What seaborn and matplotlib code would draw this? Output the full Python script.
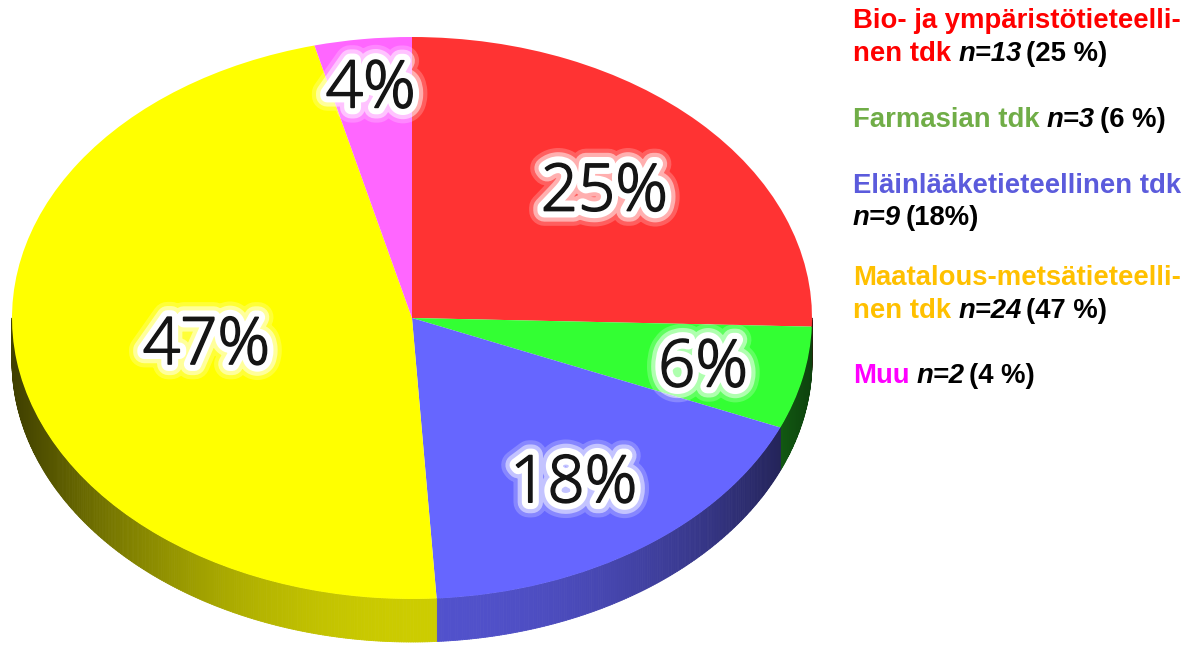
import numpy as np
import matplotlib
matplotlib.use("Agg")
import matplotlib.pyplot as plt
import seaborn as sns
from matplotlib import patheffects as pe
from matplotlib.collections import PolyCollection
from matplotlib.colors import to_rgb

# ---------------- data ----------------
categories = ["Bio- ja ympäristötieteellinen tdk", "Farmasian tdk",
              "Eläinlääketieteellinen tdk", "Maatalous-metsätieteellinen tdk", "Muu"]
counts = [13, 3, 9, 24, 2]
pct_labels = ["25%", "6%", "18%", "47%", "4%"]
legend_pcts = ["(25 %)", "(6 %)", "(18%)", "(47 %)", "(4 %)"]
legend_name_lines = [["Bio- ja ympäristötieteelli-", "nen tdk"],
                     ["Farmasian tdk"],
                     ["Eläinlääketieteellinen tdk", ""],
                     ["Maatalous-metsätieteelli-", "nen tdk"],
                     ["Muu"]]

# ---------------- style ----------------
slice_colors = ["#ff3333", "#33ff33", "#6666ff", "#ffff00", "#ff66ff"]
legend_colors = ["#ff0000", "#70ad47", "#5b5bdc", "#ffc000", "#ff00ff"]
label_r = [0.67, 0.745, 0.70, 0.52, 0.84]

W, H = 1195, 647
CX, CY, RX, RY = 412, 318, 400, 281
DEPTH = 43 / RY

sns.set_theme(style="white")
fig = plt.figure(figsize=(W / 100, H / 100), dpi=100)
ax = fig.add_axes([0, 0, 1, 1])

wedges, _ = ax.pie(counts, colors=slice_colors, startangle=90, counterclock=False,
                   radius=1, center=(0, 0), wedgeprops=dict(linewidth=0))
for w in wedges:
    w.set_zorder(3)
ax.set_xlim(-CX / RX, (W - CX) / RX)
ax.set_ylim((CY - H) / RY, CY / RY)
ax.set_aspect("auto")
ax.axis("off")

# ----- side wall (3D extrusion) -----
frac = np.array(counts, float) / np.sum(counts)
bounds = 90 - 360 * np.concatenate([[0], np.cumsum(frac)])
polys, cols = [], []
for i in range(len(counts)):
    hi, lo = bounds[i], bounds[i + 1]
    a0, a1 = min(hi, 0.0), max(lo, -180.0)
    if a0 <= a1:
        continue
    ts = np.linspace(a0, a1, max(2, int((a0 - a1) * 3)))
    base = np.array(to_rgb(slice_colors[i]))
    for t0, t1 in zip(ts[:-1], ts[1:]):
        r0, r1 = np.radians(t0), np.radians(t1)
        polys.append([(np.cos(r0), np.sin(r0)), (np.cos(r1), np.sin(r1)),
                      (np.cos(r1), np.sin(r1) - DEPTH), (np.cos(r0), np.sin(r0) - DEPTH)])
        tm = np.radians((t0 + t1) / 2 + 88)
        f = 0.25 + 0.55 * max(0.0, np.cos(tm)) ** 2
        cols.append(tuple(base * f))
pc = PolyCollection(polys, facecolors=cols, edgecolors=cols, linewidths=0.6, zorder=1)
ax.add_collection(pc)

# ----- percentage labels -----
glow = [pe.withStroke(linewidth=22, foreground=(1, 1, 1, 0.22)),
        pe.withStroke(linewidth=16, foreground=(1, 1, 1, 0.5)),
        pe.withStroke(linewidth=10, foreground="white"),
        pe.withStroke(linewidth=1.2, foreground="#151515"),
        pe.Normal()]
for i, lab in enumerate(pct_labels):
    mid = np.radians((bounds[i] + bounds[i + 1]) / 2)
    x = label_r[i] * np.cos(mid)
    y = label_r[i] * np.sin(mid) - 0.084
    ax.text(x, y, lab, ha="center", va="baseline", fontsize=47, family="Open Sans",
            fontweight=300, color="#151515", zorder=5, path_effects=glow)

# ----- legend text -----
renderer = fig.canvas.get_renderer()
FS = 19.8
GAP = 7.0
baselines = [[27.7, 60.7], [126.7], [192.7, 225], [285, 318.3], [382.7]]
LX = 853


def put(x, y, s, color, style):
    t = fig.text(x / W, 1 - y / H, s, color=color, fontsize=FS, fontweight="bold",
                 fontstyle=style, family="Liberation Sans", ha="left", va="baseline")
    return x + t.get_window_extent(renderer=renderer).width


for i, lines in enumerate(legend_name_lines):
    for j, line in enumerate(lines):
        y = baselines[i][j]
        x = LX
        if line:
            x = put(x, y, line, legend_colors[i], "normal")
        if j == len(lines) - 1:
            if line:
                x += GAP
            x = put(x, y, f"n={counts[i]}", "black", "italic")
            x += GAP * 0.7
            put(x, y, legend_pcts[i], "black", "normal")

fig.savefig("out.png", dpi=100)
